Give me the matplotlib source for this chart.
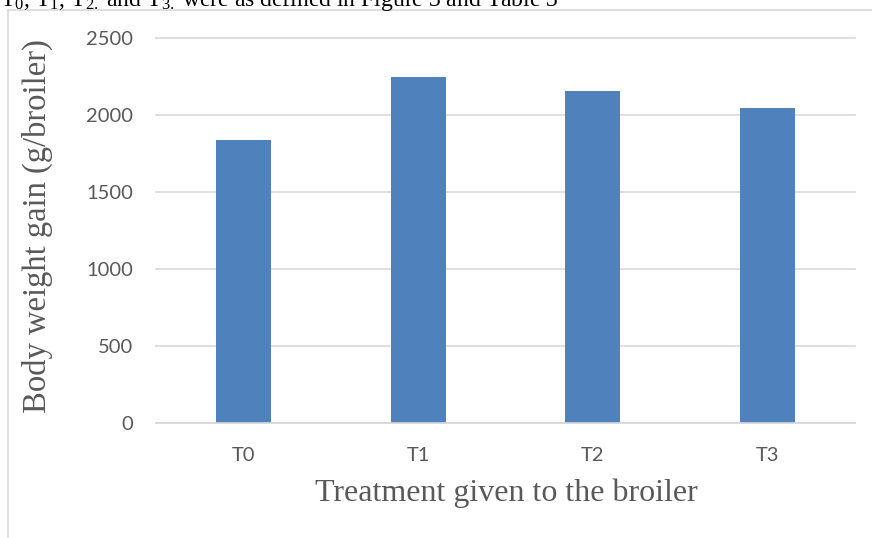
import matplotlib
matplotlib.use("Agg")
import matplotlib.pyplot as plt
from matplotlib.lines import Line2D

# Data
treatments = ["T0", "T1", "T2", "T3"]
weight_gain = [1840, 2250, 2160, 2050]
y_ticks = [0, 500, 1000, 1500, 2000, 2500]

BAR_COLOR = "#4F81BD"
GRID_COLOR = "#D9D9D9"
TEXT_GRAY = "#595959"

plt.rcParams["mathtext.fontset"] = "custom"
plt.rcParams["mathtext.rm"] = "Liberation Serif"
plt.rcParams["mathtext.it"] = "Liberation Serif:italic"

W, H = 872, 538
fig = plt.figure(figsize=(W / 100, H / 100), dpi=100)
fig.patch.set_facecolor("white")

# Chart frame (top and left edges of the embedded chart box)
fx = 7.5 / W
fy = 1 - 9.5 / H
fig.add_artist(Line2D([fx, 1.0], [fy, fy], transform=fig.transFigure,
                      color=GRID_COLOR, lw=1.2))
fig.add_artist(Line2D([fx, fx], [0.0, fy], transform=fig.transFigure,
                      color=GRID_COLOR, lw=1.2))

# Caption line from the surrounding document
fig.text(0.0 / W, 1 - 6 / H,
         r"T$_{0}$, T$_{1}$, T$_{2.}$ and T$_{3.}$ were as defined in Figure 3 and Table 3",
         family="Liberation Serif", fontsize=17, color="black",
         ha="left", va="baseline")

left, right = 156 / W, 855 / W
bottom, top = 1 - 423 / H, 1 - 38.5 / H
ax = fig.add_axes([left, bottom, right - left, top - bottom])

x = range(len(treatments))
ax.bar(x, weight_gain, width=0.315, color=BAR_COLOR, zorder=3)

ax.set_xlim(-0.5, len(treatments) - 0.5)
ax.set_ylim(0, 2500)
ax.set_yticks(y_ticks)
ax.set_xticks(list(x))
ax.set_xticklabels(treatments)

ax.yaxis.grid(True, color=GRID_COLOR, lw=1.2, zorder=0)
for gl in ax.get_ygridlines():
    gl.set_clip_on(False)
ax.set_axisbelow(True)

for s in ["top", "right", "left"]:
    ax.spines[s].set_visible(False)
ax.spines["bottom"].set_color(GRID_COLOR)
ax.spines["bottom"].set_linewidth(1.2)
ax.spines["bottom"].set_zorder(4)

ax.tick_params(axis="both", length=0, labelcolor=TEXT_GRAY, labelsize=14.5)
ax.tick_params(axis="y", pad=16.5)
ax.tick_params(axis="x", pad=17)
for lbl in ax.get_xticklabels() + ax.get_yticklabels():
    lbl.set_family("Lato")

fig.text(506 / W, 1 - 493 / H, "Treatment given to the broiler",
         family="Liberation Serif", fontsize=23, color=TEXT_GRAY,
         ha="center", va="center")
fig.text(37 / W, 1 - 226 / H, "Body weight gain (g/broiler)",
         family="Liberation Serif", fontsize=23.5, color=TEXT_GRAY,
         ha="center", va="center", rotation=90)

fig.savefig("out.png", dpi=100, facecolor="white")
